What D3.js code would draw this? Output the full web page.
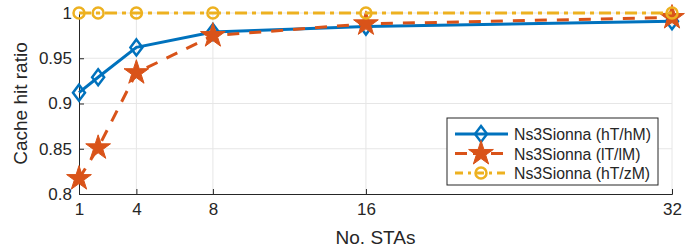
<!DOCTYPE html>
<html>
<head>
<meta charset="utf-8">
<script src="https://cdn.jsdelivr.net/npm/d3@7"></script>
<style>
  body { margin: 0; background: #fff; }
  text { font-family: "Liberation Sans", Arial, sans-serif; fill: #262626; }
</style>
</head>
<body>
<div id="chart"></div>
<script>
// data
const stas = [1, 2, 4, 8, 16, 32];
const hThM = [0.912, 0.929, 0.962, 0.979, 0.985, 0.991];
const lTlM = [0.817, 0.851, 0.934, 0.975, 0.988, 0.995];
const hTzM = [1, 1, 1, 1, 1, 1];
const seriesNames = ['Ns3Sionna (hT/hM)', 'Ns3Sionna (lT/lM)', 'Ns3Sionna (hT/zM)'];
const xTicks = [1, 4, 8, 16, 32];
const yTicks = [0.8, 0.85, 0.9, 0.95, 1];

const width = 700, height = 250;
const margin = { top: 13, right: 28, bottom: 56, left: 79 };
const w = width - margin.left - margin.right;
const h = height - margin.top - margin.bottom;

const svg = d3.select('#chart').append('svg')
  .attr('width', width)
  .attr('height', height);

const g = svg.append('g').attr('transform', `translate(${margin.left},${margin.top})`);

const x = d3.scaleLinear().domain([1, 32]).range([0, w]);
const y = d3.scaleLinear().domain([0.8, 1]).range([h, 0]);

// grid
g.append('g').selectAll('line')
  .data(xTicks.slice(1))
  .join('line')
    .attr('x1', d => x(d)).attr('x2', d => x(d))
    .attr('y1', 0).attr('y2', h)
    .attr('stroke', '#e6e6e6');
g.append('g').selectAll('line')
  .data(yTicks.slice(1))
  .join('line')
    .attr('x1', 0).attr('x2', w)
    .attr('y1', d => y(d)).attr('y2', d => y(d))
    .attr('stroke', '#e6e6e6');

// axes
const xAxis = g.append('g')
  .attr('transform', `translate(0,${h})`)
  .call(d3.axisBottom(x).tickValues(xTicks).tickSize(-5).tickPadding(9).tickFormat(d3.format('d')));
const yAxis = g.append('g')
  .call(d3.axisLeft(y).tickValues(yTicks).tickSize(-5).tickPadding(7).tickFormat(d => String(d)));
[xAxis, yAxis].forEach(a => {
  a.selectAll('path').attr('stroke', '#262626').attr('stroke-width', 1);
  a.selectAll('line').attr('stroke', '#262626');
  a.selectAll('text').attr('font-size', 17).attr('fill', '#262626')
    .style('font-family', '"Liberation Sans", Arial, sans-serif');
});

// labels
svg.append('text')
  .attr('x', margin.left + w / 2)
  .attr('y', 244)
  .attr('text-anchor', 'middle')
  .attr('font-size', 19)
  .text('No. STAs');
svg.append('text')
  .attr('transform', `translate(27,${margin.top + h / 2}) rotate(-90)`)
  .attr('text-anchor', 'middle')
  .attr('font-size', 19)
  .text('Cache hit ratio');

const series = [
  { name: seriesNames[0], values: hThM, color: '#0072BD', dash: null, legDash: null, marker: 'diamond' },
  { name: seriesNames[1], values: lTlM, color: '#D95319', dash: '12,10', legDash: '12,6', marker: 'star' },
  { name: seriesNames[2], values: hTzM, color: '#EDB120', dash: '12,5,4,5', legDash: '8,5,3,5', marker: 'circle' }
];

const line = d3.line().x((d, i) => x(stas[i])).y(d => y(d));

function drawMarker(sel, type, color) {
  if (type === 'diamond') {
    sel.append('path')
      .attr('d', 'M0,-8L6,0L0,8L-6,0Z')
      .attr('fill', 'none').attr('stroke', color).attr('stroke-width', 2.5);
  } else if (type === 'star') {
    sel.append('path')
      .attr('d', d3.symbol(d3.symbolStar, 190)())
      .attr('fill', color).attr('stroke', color).attr('stroke-width', 1);
  } else {
    sel.append('circle')
      .attr('r', 5.5)
      .attr('fill', 'none').attr('stroke', color).attr('stroke-width', 2.5);
  }
}

// later series drawn on top, as in the reference
series.forEach(s => {
  const sg = g.append('g');
  sg.append('path')
    .attr('d', line(s.values))
    .attr('fill', 'none')
    .attr('stroke', s.color)
    .attr('stroke-width', 3)
    .attr('stroke-dasharray', s.dash);
  sg.selectAll('g.m')
    .data(s.values)
    .join('g')
      .attr('class', 'm')
      .attr('transform', (d, i) => `translate(${x(stas[i])},${y(d)})`)
      .each(function() { drawMarker(d3.select(this), s.marker, s.color); });
});

// legend
const lg = svg.append('g').attr('transform', 'translate(447,118)');
lg.append('rect')
  .attr('width', 211).attr('height', 67)
  .attr('fill', '#fff').attr('stroke', '#262626').attr('stroke-width', 1);
series.forEach((s, i) => {
  const ly = 16 + i * 19.5;
  lg.append('line')
    .attr('x1', 8).attr('x2', 61)
    .attr('y1', ly).attr('y2', ly)
    .attr('stroke', s.color).attr('stroke-width', 3)
    .attr('stroke-dasharray', s.legDash);
  const mg = lg.append('g').attr('transform', `translate(34,${ly})`);
  drawMarker(mg, s.marker, s.color);
  lg.append('text')
    .attr('x', 67).attr('y', ly + 6)
    .attr('font-size', 15.8)
    .text(s.name);
});
</script>
</body>
</html>
